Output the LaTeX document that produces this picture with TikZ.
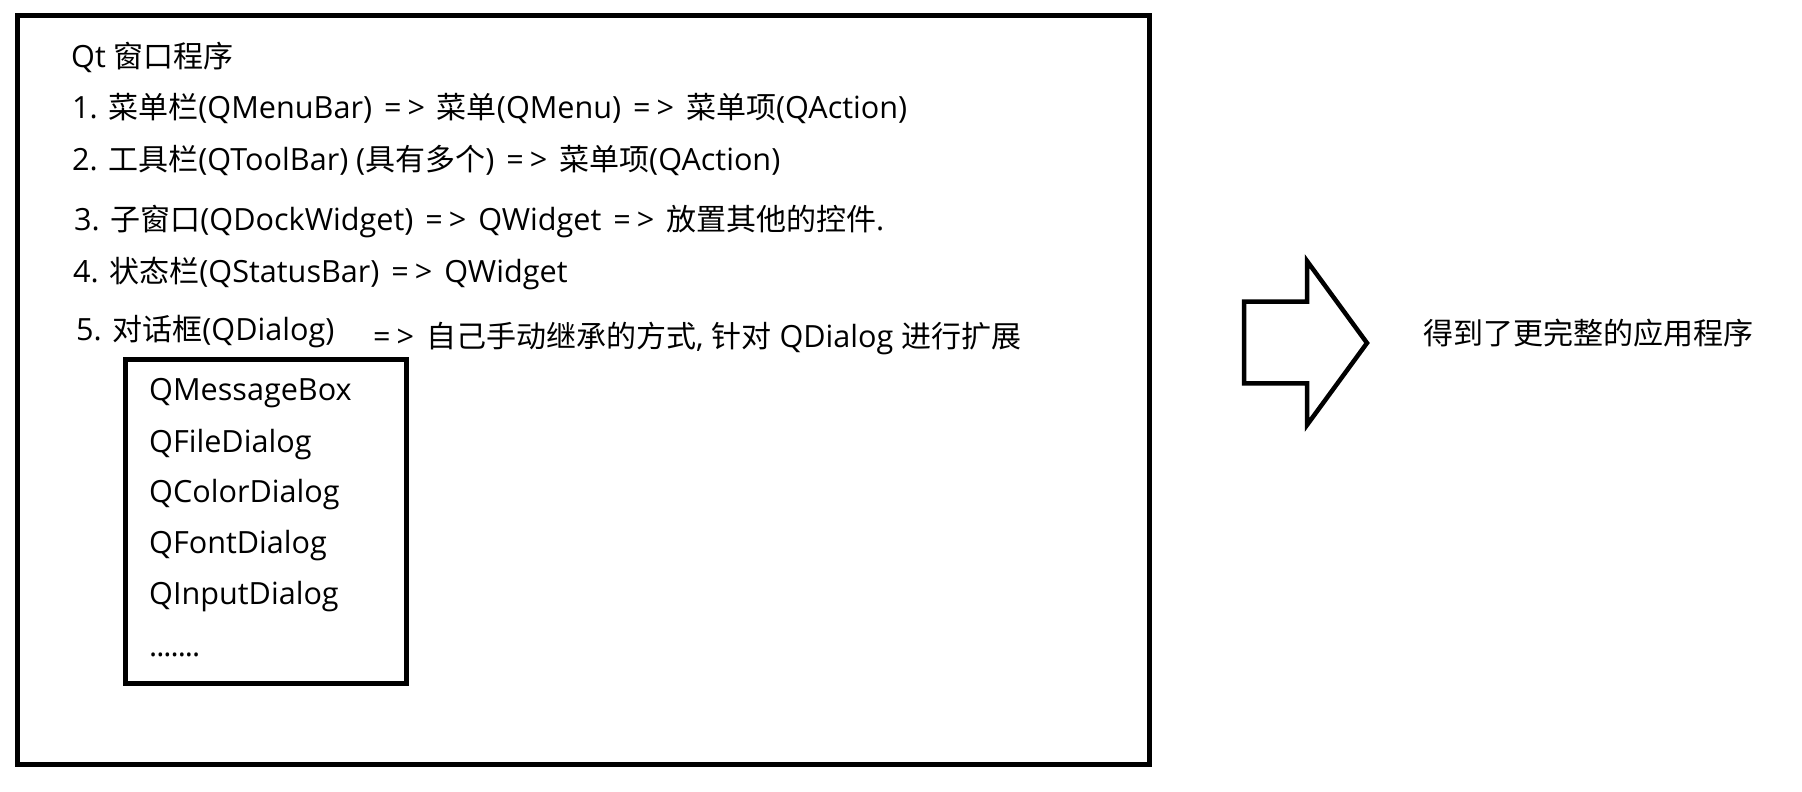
\documentclass[tikz,border=0pt]{standalone}
\usepackage{fontspec}
\setmainfont{Open Sans}
\newfontfamily\cjkfnt{Noto Sans CJK SC}
\newcommand\zh[1]{{\fontsize{30pt}{36pt}\cjkfnt #1}}
\newcommand\ar{\hspace{4pt}=\hspace{6pt}>\hspace{4pt}}
\begin{document}
\begin{tikzpicture}[x=1pt,y=-1pt,
  txt/.style={anchor=base west,inner sep=0pt,font=\fontsize{30.6pt}{36pt}\selectfont},
  boxline/.style={draw=black,line width=5pt},
  arrowline/.style={draw=black,line width=4.5pt,line join=miter}]
\useasboundingbox[fill=white] (0,0) rectangle (1802,792);
% outer frame
\draw[boxline] (17.5,15.3) rectangle (1149,764);
% inner list box
\draw[boxline] (125,359.5) rectangle (406.5,683.5);
% text lines
\node[txt] (t0) at (71,68) {Qt \zh{窗口程序}};
\node[txt] (t1) at (72,118) {1. \zh{菜单栏}(QMenuBar) \ar{} \zh{菜单}(QMenu) \ar{} \zh{菜单项}(QAction)};
\node[txt] (t2) at (72,170) {2. \zh{工具栏}(QToolBar) (\zh{具有多个}) \ar{} \zh{菜单项}(QAction)};
\node[txt] (t3) at (74,230) {3. \zh{子窗口}(QDockWidget) \ar{} QWidget \ar{} \zh{放置其他的控件}.};
\node[txt] (t4) at (73,282) {4. \zh{状态栏}(QStatusBar) \ar{} QWidget};
\node[txt] (t5) at (76,340) {5. \zh{对话框}(QDialog)};
\node[txt] (t6) at (373,347) {=\hspace{6pt}>\hspace{4pt} \zh{自己手动继承的方式}, \zh{针对} QDialog \zh{进行扩展}};
% list items
\node[txt] (l1) at (149,400) {QMessageBox};
\node[txt] (l2) at (149,452) {QFileDialog};
\node[txt] (l3) at (149,502) {QColorDialog};
\node[txt] (l4) at (149,553) {QFontDialog};
\node[txt] (l5) at (149,604) {QInputDialog};
\node[txt] (l6) at (149,656) {.\kern-1pt.\kern-1pt.\kern-1pt.\kern-1pt.\kern-1pt.\kern-1pt.};
% block arrow
\draw[arrowline] (1244,301.7) -- (1307,301.7) -- (1307,261) -- (1367,343)
  -- (1307,425) -- (1307,383.3) -- (1244,383.3) -- cycle;
% result text
\node[txt] (res) at (1423,344) {\zh{得到了更完整的应用程序}};
\end{tikzpicture}
\end{document}
